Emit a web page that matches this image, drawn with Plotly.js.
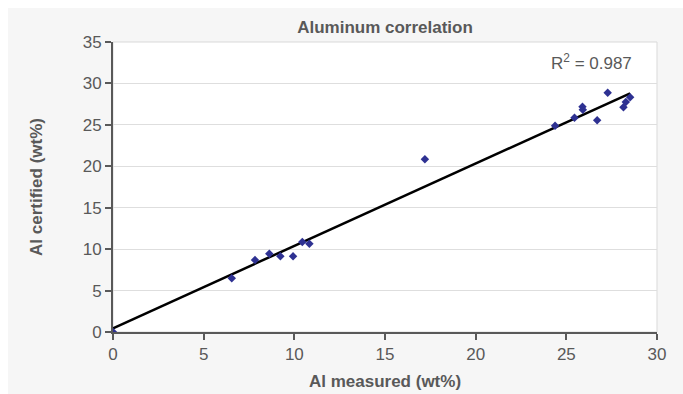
<!DOCTYPE html>
<html>
<head>
<meta charset="utf-8">
<script src="https://cdn.plot.ly/plotly-3.0.1.min.js"></script>
<style>html,body{margin:0;padding:0;background:#fff;}#chart{width:683px;height:394px;}</style>
</head>
<body>
<div id="chart"></div>
<script>
// Measured vs certified aluminum (wt%)
const alMeasured  = [0, 6.55, 7.83, 8.62, 9.23, 9.93, 10.44, 10.83, 17.2, 24.38, 25.45, 25.89, 25.91, 26.7, 27.28, 28.15, 28.28, 28.52];
const alCertified = [0, 6.48, 8.69, 9.45, 9.13, 9.13, 10.86, 10.66, 20.85, 24.9, 25.87, 27.2, 26.83, 25.55, 28.88, 27.12, 27.76, 28.32];
// Linear trendline end points
const trendX = [0, 28.52];
const trendY = [0.45, 28.8];
const xTicks = [0, 5, 10, 15, 20, 25, 30];
const yTicks = [0, 5, 10, 15, 20, 25, 30, 35];
const r2Label = 'R<sup>2</sup> = 0.987';

const font = 'Liberation Sans, Arial, sans-serif';
const gray = '#595959';

const traces = [
  {x: trendX, y: trendY, mode: 'lines', line: {color: '#000', width: 2.5}, hoverinfo: 'skip'},
  {x: alMeasured, y: alCertified, mode: 'markers',
   marker: {symbol: 'diamond', size: 6.5, color: '#2e3192'}}
];

const layout = {
  width: 683, height: 394,
  margin: {l: 113, r: 26, t: 42, b: 62},
  paper_bgcolor: '#fff',
  plot_bgcolor: 'rgba(0,0,0,0)',
  showlegend: false,
  title: {text: '<b>Aluminum correlation</b>', font: {family: font, size: 17, color: gray},
          x: 0.5, xref: 'paper', xanchor: 'center', y: 0.931, yref: 'container', yanchor: 'middle'},
  xaxis: {
    range: [0, 30], tickvals: xTicks, ticktext: xTicks.map(String),
    showline: true, linecolor: gray, linewidth: 2,
    ticks: 'outside', ticklen: 6, tickwidth: 2, tickcolor: gray,
    showgrid: false, zeroline: false,
    tickfont: {family: font, size: 17, color: gray},
    title: {text: '<b>Al measured (wt%)</b>', font: {family: font, size: 17, color: gray}, standoff: 12}
  },
  yaxis: {
    range: [0, 35], tickvals: yTicks, ticktext: yTicks.map(String),
    showline: true, linecolor: gray, linewidth: 2,
    ticks: 'outside', ticklen: 6, tickwidth: 2, tickcolor: gray,
    showgrid: true, gridcolor: '#dedede', gridwidth: 1, zeroline: false,
    tickfont: {family: font, size: 17, color: gray},
    title: {text: '<b>Al certified (wt%)</b>', font: {family: font, size: 17, color: gray}, standoff: 36}
  },
  shapes: [
    {type: 'rect', xref: 'paper', yref: 'paper', x0: -0.193, x1: 1.06, y0: -0.22, y1: 1.117,
     fillcolor: '#f6f6f6', line: {width: 0}, layer: 'below'},
    {type: 'rect', xref: 'paper', yref: 'paper', x0: 0, x1: 1, y0: 0, y1: 1,
     fillcolor: '#ffffff', line: {color: '#d9d9d9', width: 1}, layer: 'below'}
  ],
  annotations: [
    {text: r2Label, xref: 'paper', yref: 'paper', x: 0.958, y: 0.93, xanchor: 'right', yanchor: 'middle',
     showarrow: false, font: {family: font, size: 17, color: gray}}
  ]
};

Plotly.newPlot('chart', traces, layout, {displayModeBar: false, staticPlot: true});
</script>
</body>
</html>
